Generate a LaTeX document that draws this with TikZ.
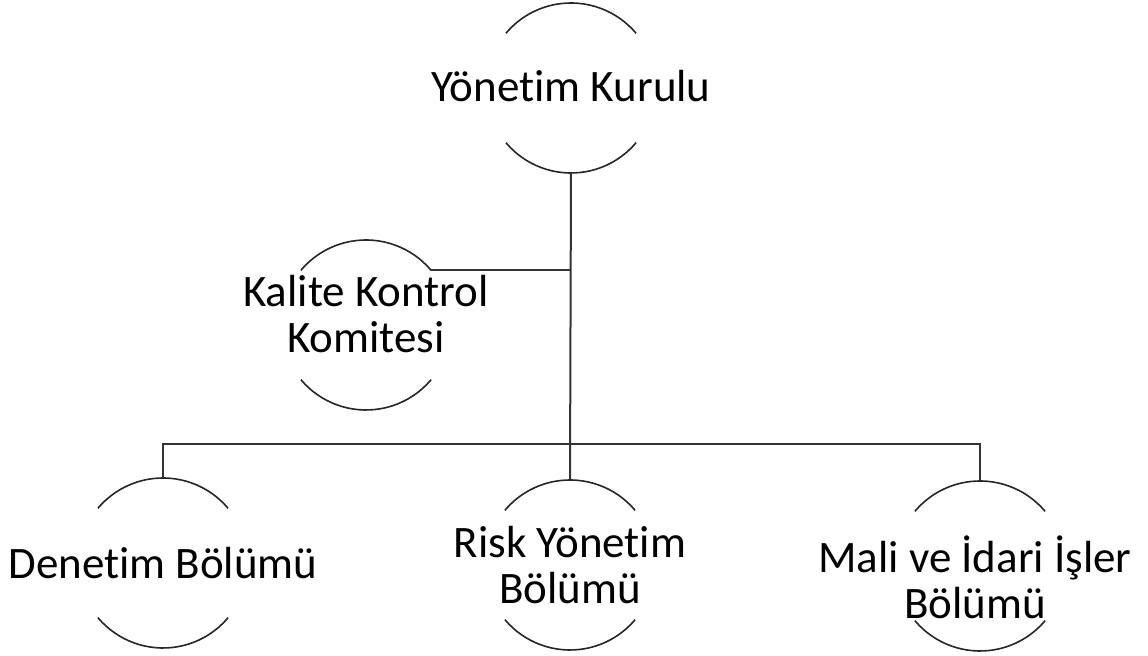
\documentclass[tikz,border=0pt]{standalone}
\usepackage{fontspec}
\setmainfont{Carlito}[Ligatures=NoCommon]
\usepackage{tikz}
\usetikzlibrary{positioning}
\tikzstyle{unit} = [inner sep=0pt, outer sep=0pt, align=center,
    font=\fontsize{22.5}{23}\selectfont]
\tikzstyle{rim} = [draw, line width=0.8pt, black!85]
\tikzstyle{line} = [draw, line width=1pt, black!80]

\begin{document}
\begin{tikzpicture}[x=0.5pt, y=-0.5pt]
\useasboundingbox (0,0) rectangle (1148,656);
    % Place nodes
    \node [unit] (board) at (571,86) {Y\"onetim Kurulu};
    \node [unit] (quality) at (366,314) {Kalite Kontrol\\Komitesi};
    \node [unit] (audit) at (163,563) {Denetim B\"ol\"um\"u};
    \node [unit] (risk) at (570,565) {Risk Y\"onetim\\B\"ol\"um\"u};
    \node [unit] (admin) at (975,577) {Mali ve \.Idari \.I\c{s}ler\\B\"ol\"um\"u};
    % ring centres
    \coordinate (boardc) at (571,88);
    \coordinate (qualityc) at (366,325);
    \coordinate (auditc) at (163,563);
    \coordinate (riskc) at (570,565);
    \coordinate (adminc) at (980,566);
    \coordinate (bus) at (570,444);

    % Draw rims
    \foreach \n in {boardc,qualityc,auditc,riskc,adminc} {
        \path [rim] ([shift={(40:42.5pt)}]\n) arc[start angle=40, end angle=140, radius=42.5pt];
        \path [rim] ([shift={(220:42.5pt)}]\n) arc[start angle=220, end angle=320, radius=42.5pt];
    }
    \coordinate (boardb) at ([yshift=-42.5pt]boardc);
    \coordinate (riskt) at ([yshift=42.5pt]riskc);
    \coordinate (auditt) at ([yshift=42.5pt]auditc);
    \coordinate (admint) at ([yshift=42.5pt]adminc);
    \coordinate (qualitye) at ([shift={(40:42.5pt)}]qualityc);

    % Draw edges
    \path [line] (boardb) -- (riskt);
    \path [line] (qualitye) -- (qualitye -| boardb);
    \path [line] (auditt) |- (bus) -| (admint);
\end{tikzpicture}
\end{document}
